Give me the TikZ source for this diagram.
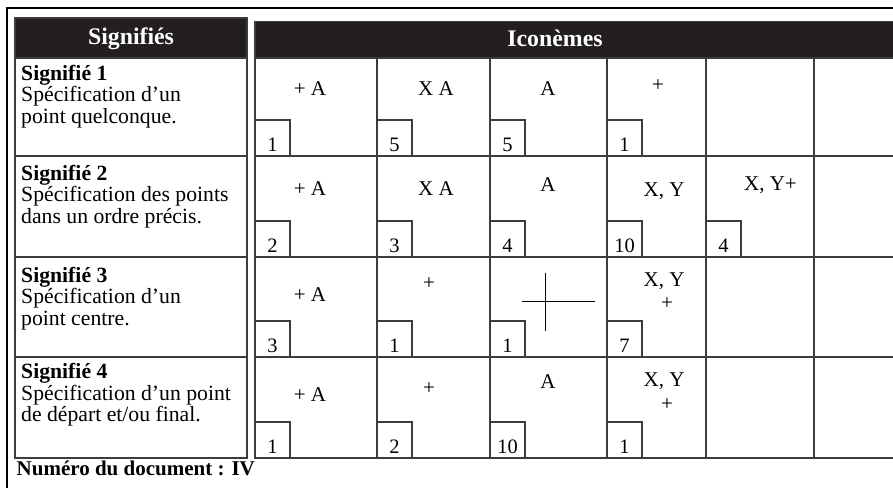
\documentclass[tikz,border=0pt]{standalone}
\usepackage{fontspec}
\setmainfont{Liberation Serif}
\definecolor{hdr}{RGB}{35,31,32}
\definecolor{ln}{RGB}{60,60,60}
\begin{document}
\begin{tikzpicture}[x=1pt,y=-1pt,
  txt/.style={inner sep=0pt, anchor=base, font=\fontsize{21}{23}\selectfont},
  numtxt/.style={inner sep=0pt, anchor=base, font=\fontsize{20.5}{23}\selectfont},
  hdtxt/.style={inner sep=0pt, anchor=base, text=white, font=\fontsize{23.8}{26}\selectfont\bfseries},
  ltxt/.style={inner sep=0pt, anchor=base west, font=\fontsize{21.7}{23}\selectfont},
  grid/.style={draw=ln, line width=1.2pt},
  numbox/.style={draw=ln, line width=1.1pt},
  frame/.style={draw=black, line width=2.6pt, line join=miter}]
\useasboundingbox (0,0) rectangle (893,487);

% outer frame (cropped)
\draw[frame] (7,488) -- (7,8) -- (894,8);

% left table
\fill[hdr] (15,18) rectangle (247,58);
\draw[grid] (15,18) rectangle (247,458);
\foreach \yy in {58,156,257,357} \draw[grid] (15,\yy) -- (247,\yy);

% right table
\fill[hdr] (255,21.7) rectangle (894,58);
\draw[grid] (894,21.7) -- (255,21.7) -- (255,458) -- (894,458);
\foreach \yy in {58,156,257,357} \draw[grid] (255,\yy) -- (894,\yy);
\foreach \xx in {377,490,607,706,814} \draw[grid] (\xx,58) -- (\xx,458);

% headers
\node[hdtxt] (h1) at (131,45) {Signifiés};
\node[hdtxt] (h2) at (555,46.5) {Iconèmes};

% left column texts
\node[ltxt] (s1a) at (21,80) {\textbf{Signifié 1}};
\node[ltxt] (s1b) at (21,101.7) {Spécification d’un};
\node[ltxt] (s1c) at (21,123.4) {point quelconque.};
\node[ltxt] (s2a) at (21,180) {\textbf{Signifié 2}};
\node[ltxt] (s2b) at (21,201.7) {Spécification des points};
\node[ltxt] (s2c) at (21,223.4) {dans un ordre précis.};
\node[ltxt] (s3a) at (21,282) {\textbf{Signifié 3}};
\node[ltxt] (s3b) at (21,303.7) {Spécification d’un};
\node[ltxt] (s3c) at (21,325.4) {point centre.};
\node[ltxt] (s4a) at (21,378.3) {\textbf{Signifié 4}};
\node[ltxt] (s4b) at (21,400) {Spécification d’un point};
\node[ltxt] (s4c) at (21,421.7) {de départ et/ou final.};

% row 1 iconemes
\node[txt] (r1c1) at (310,95) {+ A};
\node[txt] (r1c2) at (436,95) {X A};
\node[txt] (r1c3) at (548,95) {A};
\node[txt] (r1c4) at (658,91) {+};
% row 2
\node[txt] (r2c1) at (310,195) {+ A};
\node[txt] (r2c2) at (436,195) {X A};
\node[txt] (r2c3) at (548,191.7) {A};
\node[txt] (r2c4) at (664,196.7) {X, Y};
\node[txt] (r2c5) at (770.5,190) {X, Y+};
% row 3
\node[txt] (r3c1) at (310,301.7) {+ A};
\node[txt] (r3c2) at (429,289.5) {+};
\node[txt] (r3c4a) at (664,286.7) {X, Y};
\node[txt] (r3c4b) at (667,309) {+};
\draw[black, line width=1pt] (521.7,301.7) -- (595,301.7);
\draw[black, line width=1pt] (545.7,272.7) -- (545.7,331);
% row 4
\node[txt] (r4c1) at (310,401.7) {+ A};
\node[txt] (r4c2) at (429,394.5) {+};
\node[txt] (r4c3) at (548,388) {A};
\node[txt] (r4c4a) at (664,386.7) {X, Y};
\node[txt] (r4c4b) at (667,410.5) {+};

% number boxes
\foreach \cx/\rb/\n [count=\k] in {255/156/1,377/156/5,490/156/5,607/156/1,
  255/257/2,377/257/3,490/257/4,607/257/10,706/257/4,
  255/357/3,377/357/1,490/357/1,607/357/7,
  255/458/1,377/458/2,490/458/10,607/458/1}{
  \draw[numbox] (\cx,\rb-36) rectangle (\cx+35,\rb);
  \node[numtxt] (nb\k) at (\cx+17.5,\rb-5) {\n};
}

% footer
\node[inner sep=0pt, anchor=base west, font=\fontsize{21}{24}\selectfont\bfseries] (doc) at (16.5,475.7) {Numéro du document : IV};
\end{tikzpicture}
\end{document}
